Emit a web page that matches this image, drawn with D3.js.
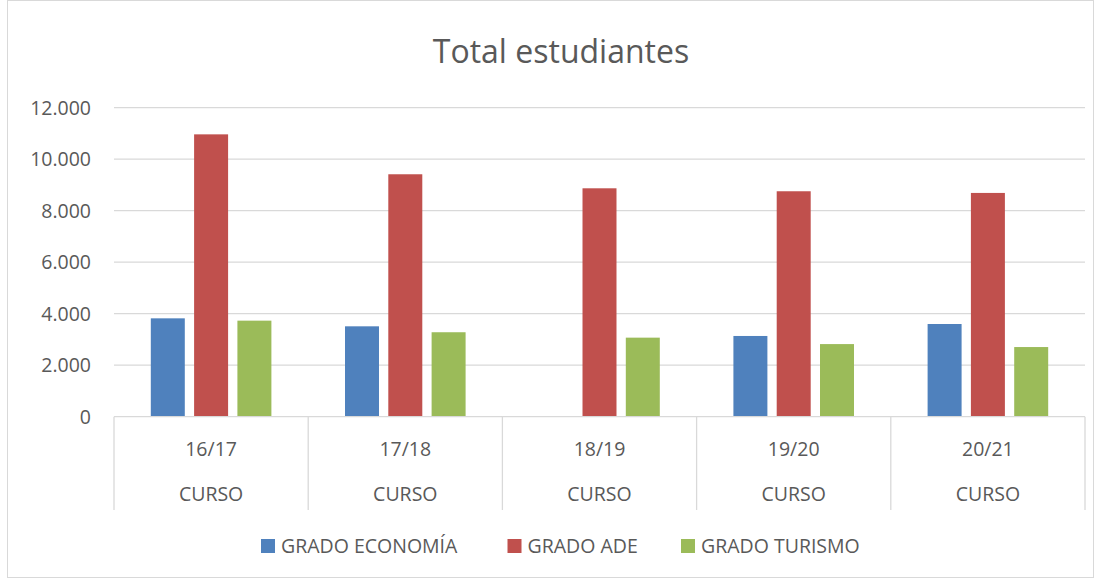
<!DOCTYPE html>
<html><head><meta charset="utf-8">
<script src="https://cdn.jsdelivr.net/npm/d3@7"></script>
<style>body{margin:0;background:#fff}text{font-family:"Open Sans","Noto Sans",sans-serif;fill:#595959}</style>
</head><body><svg id="c" width="1102" height="579"></svg>
<script>
const categories = ["16/17","17/18","18/19","19/20","20/21"];
const groupLabel = "CURSO";
const seriesNames = ["GRADO ECONOMÍA","GRADO ADE","GRADO TURISMO"];
const economia = [3820, 3510, 0, 3135, 3600];
const ade = [10965, 9415, 8870, 8755, 8690];
const turismo = [3730, 3280, 3070, 2820, 2705];
const colors = ["#4f81bd","#c0504d","#9bbb59"];
const yTicks = [0,2000,4000,6000,8000,10000,12000];

(function(){
const svg = d3.select("#c");
svg.append("rect").attr("x",7.5).attr("y",0.5).attr("width",1086).attr("height",577).attr("fill","#fff").attr("stroke","#d9d9d9");

const pL=114, pR=1085, pT=107.7, pB=416.7;
const x = d3.scaleBand().domain(categories).range([pL,pR]);
const inner = d3.scaleBand().domain(seriesNames).range([0,x.bandwidth()]).paddingInner(0.215).paddingOuter(0.85);
const y = d3.scaleLinear().domain([0,12000]).range([pB,pT]);

const fmt = d=> d3.format(",")(d).replace(/,/g,".");
svg.append("g").selectAll("line").data(yTicks.slice(1)).join("line")
 .attr("x1",pL).attr("x2",pR).attr("y1",d=>y(d)).attr("y2",d=>y(d))
 .attr("stroke","#d9d9d9").attr("stroke-width",1.3);
svg.append("g").selectAll("text").data(yTicks).join("text")
 .attr("x",91).attr("y",d=>y(d)).attr("dy","0.35em").attr("text-anchor","end")
 .attr("font-size",19.5).text(fmt);

const series=[economia,ade,turismo];
series.forEach((vals,si)=>{
  svg.append("g").selectAll("rect").data(categories).join("rect")
   .attr("x",c=>x(c)+inner(seriesNames[si]))
   .attr("width",inner.bandwidth())
   .attr("y",(c,i)=>y(vals[i]))
   .attr("height",(c,i)=>pB-y(vals[i]))
   .attr("fill",colors[si]);
});

svg.append("line").attr("x1",pL).attr("x2",pR).attr("y1",pB).attr("y2",pB).attr("stroke","#d9d9d9").attr("stroke-width",1.3);
const bounds = categories.map(c=>x(c)).concat([pR]);
svg.append("g").selectAll("line").data(bounds).join("line")
 .attr("x1",d=>d).attr("x2",d=>d).attr("y1",pB).attr("y2",510)
 .attr("stroke","#d9d9d9").attr("stroke-width",1.3);
svg.append("g").selectAll("text").data(categories).join("text")
 .attr("x",c=>x(c)+x.bandwidth()/2).attr("y",449).attr("dy","0.35em").attr("text-anchor","middle")
 .attr("font-size",19.5).text(d=>d);
svg.append("g").selectAll("text").data(categories).join("text")
 .attr("x",c=>x(c)+x.bandwidth()/2).attr("y",494).attr("dy","0.35em").attr("text-anchor","middle")
 .attr("font-size",19.5).text(groupLabel);

svg.append("text").attr("x",561).attr("y",52).attr("dy","0.35em").attr("text-anchor","middle")
 .attr("font-size",32).text("Total estudiantes");

const legX=[261,507.5,681];
const lg=svg.append("g");
seriesNames.forEach((n,i)=>{
  lg.append("rect").attr("x",legX[i]).attr("y",539).attr("width",14).attr("height",14).attr("fill",colors[i]);
  lg.append("text").attr("x",legX[i]+20).attr("y",546).attr("dy","0.35em").attr("font-size",19.5).text(n);
});
})();
</script></body></html>
